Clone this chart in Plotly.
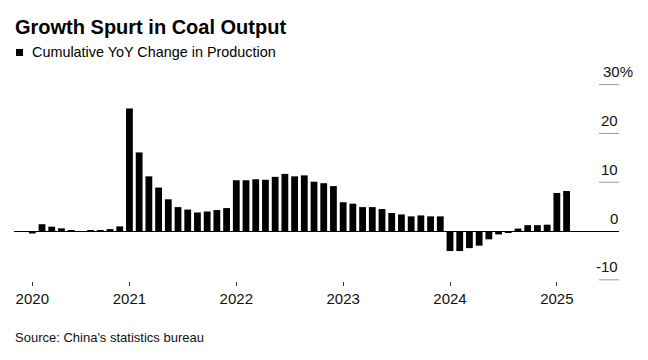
import plotly.graph_objects as go

# Cumulative YoY change in China's coal production (%), monthly periods
# 2020: Jan-Mar .. Jan-Dec; 2021-2024: Jan-Feb .. Jan-Dec; 2025: Jan-Feb, Jan-Mar
periods = (
    [f"2020-{m:02d}" for m in range(3, 13)]
    + [f"{y}-{m:02d}" for y in (2021, 2022, 2023, 2024) for m in range(2, 13)]
    + ["2025-02", "2025-03"]
)
values_2020 = [-0.5, 1.4, 0.9, 0.55, 0.1, 0.0, 0.05, 0.2, 0.4, 0.95]
values_2021 = [25.1, 16.1, 11.2, 8.9, 6.5, 4.9, 4.4, 3.8, 4.0, 4.3, 4.7]
values_2022 = [10.4, 10.4, 10.6, 10.5, 11.1, 11.7, 11.2, 11.4, 10.1, 9.8, 9.2]
values_2023 = [5.9, 5.6, 4.9, 4.9, 4.5, 3.7, 3.4, 3.0, 3.2, 3.0, 3.0]
values_2024 = [-4.1, -4.1, -3.5, -3.0, -1.7, -0.7, -0.3, 0.5, 1.2, 1.2, 1.3]
values_2025 = [7.8, 8.2]
values = values_2020 + values_2021 + values_2022 + values_2023 + values_2024 + values_2025

year_labels = ["2020", "2021", "2022", "2023", "2024", "2025"]
y_ticks = [30, 20, 10, 0, -10]
y_tick_labels = ["30%", "20", "10", "0", "-10"]

title_text = "Growth Spurt in Coal Output"
legend_text = "Cumulative YoY Change in Production"
source_text = "Source: China's statistics bureau"

x_idx = list(range(len(values)))
year_pos = [periods.index(next(p for p in periods if p.startswith(y))) for y in year_labels]

W, H = 648, 360
L, R, T, B = 14, 29, 70, 79.3
PW, PH = W - L - R, H - T - B

def px_x(p):
    return (p - L) / PW

def px_y(p):
    return (H - B - p) / PH

FONT = "Liberation Sans, Arial, sans-serif"

fig = go.Figure(
    go.Bar(
        x=x_idx,
        y=values,
        marker=dict(color="#000000", line=dict(width=0)),
        name=legend_text,
        showlegend=False,
        hovertext=periods,
    )
)

shapes = []
annotations = []
for v, lab in zip(y_ticks, y_tick_labels):
    if v != 0:
        shapes.append(dict(type="line", xref="paper", yref="y",
                           x0=px_x(599), x1=1.0, y0=v, y1=v,
                           line=dict(color="#999999", width=1)))
    if lab.endswith("%"):
        annotations.append(dict(xref="paper", yref="y", x=px_x(602), y=v,
                                xanchor="left", yanchor="middle", yshift=13,
                                text=lab, showarrow=False, borderpad=0,
                                font=dict(family=FONT, size=15, color="#111111")))
    else:
        annotations.append(dict(xref="paper", yref="y", x=1.0, y=v,
                                xanchor="right", yanchor="middle", yshift=13,
                                text=lab, showarrow=False, borderpad=0,
                                font=dict(family=FONT, size=15, color="#111111")))

# legend swatch
shapes.append(dict(type="rect", xref="paper", yref="paper",
                   x0=px_x(16), x1=px_x(23), y0=px_y(56), y1=px_y(49),
                   fillcolor="#000000", line=dict(width=0)))

annotations += [
    dict(xref="paper", yref="paper", x=px_x(14), y=px_y(27), xanchor="left", yanchor="middle",
         text=f"<b>{title_text}</b>", showarrow=False, borderpad=0,
         font=dict(family=FONT, size=20, color="#000000")),
    dict(xref="paper", yref="paper", x=px_x(31), y=px_y(52.5), xanchor="left", yanchor="middle",
         text=legend_text, showarrow=False, borderpad=0,
         font=dict(family=FONT, size=14.4, color="#000000")),
    dict(xref="paper", yref="paper", x=px_x(14), y=px_y(337), xanchor="left", yanchor="middle",
         text=source_text, showarrow=False, borderpad=0,
         font=dict(family=FONT, size=13, color="#111111")),
]

fig.update_layout(
    width=W, height=H,
    margin=dict(l=L, r=R, t=T, b=B, pad=0),
    paper_bgcolor="white", plot_bgcolor="white",
    bargap=0.3,
    shapes=shapes,
    annotations=annotations,
    xaxis=dict(
        range=[(L - 32.3) / 9.714, (W - R - 32.3) / 9.714],
        tickvals=year_pos, ticktext=year_labels,
        ticks="outside", ticklen=4, tickwidth=1, tickcolor="#333333",
        showgrid=False, showline=False, zeroline=False,
        tickfont=dict(family=FONT, size=15, color="#111111"),
        fixedrange=True,
    ),
    yaxis=dict(
        range=[(230.8 - (H - B)) / 4.875, (230.8 - T) / 4.875],
        showticklabels=False, showgrid=False, showline=False,
        zeroline=True, zerolinecolor="#000000", zerolinewidth=1,
        ticks="", fixedrange=True,
    ),
    font=dict(family=FONT),
)

fig.write_html(
    "out.html",
    config={"displayModeBar": False},
    post_script="document.body.style.margin='0';document.body.style.overflow='hidden';",
)
